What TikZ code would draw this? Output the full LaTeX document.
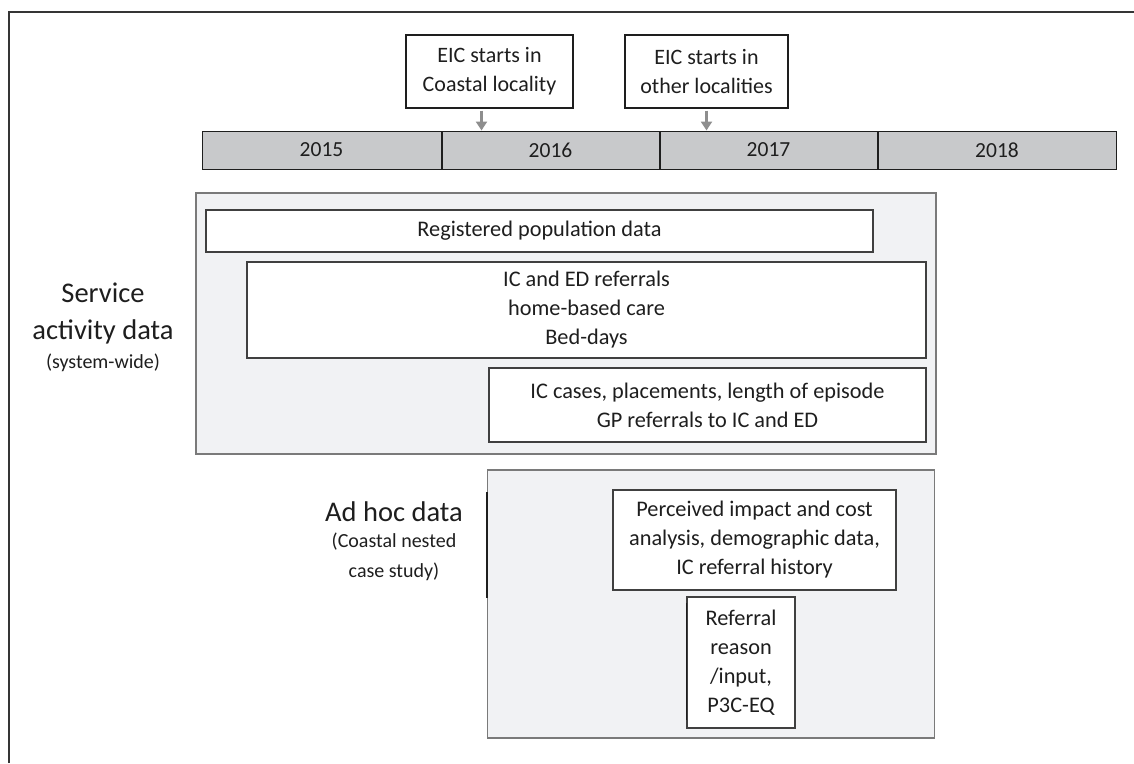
\documentclass[tikz,border=0pt]{standalone}
\usepackage{fontspec}
\setmainfont{Carlito}
\usetikzlibrary{arrows.meta,positioning}

\definecolor{yeargray}{HTML}{C8C9CB}
\definecolor{panelgray}{HTML}{F1F2F4}
\definecolor{edgegray}{HTML}{7A7A7A}
\definecolor{arrowgray}{HTML}{8E8E8E}
\definecolor{inkgray}{HTML}{1E1E1E}

\tikzset{
  yearbox/.style={draw=inkgray,fill=yeargray,line width=1pt,minimum height=38pt,inner sep=0pt,text=inkgray,font=\fontsize{21.5}{24}\selectfont},
  eventbox/.style={draw=inkgray,fill=white,line width=1.4pt,align=center,inner sep=0pt,minimum height=73pt,text=inkgray,font=\fontsize{22}{29}\selectfont},
  panel/.style={draw=edgegray,fill=panelgray,line width=1.5pt,inner sep=0pt},
  databox/.style={draw=inkgray!85,fill=white,line width=1.2pt,align=center,inner sep=0pt,text=inkgray,font=\fontsize{22.3}{29}\selectfont},
  sidelabel/.style={align=center,text=inkgray,font=\fontsize{28.5}{37}\selectfont},
  sidenote/.style={align=center,text=inkgray,font=\fontsize{20}{30}\selectfont},
  startarrow/.style={draw=arrowgray,line width=2.6pt,-{Triangle[length=9pt,width=11pt]}}
}

\begin{document}
\begin{tikzpicture}[x=1pt,y=-1pt]
        \useasboundingbox (0,0) rectangle (1134,763);

        % Outer frame
        \draw[line width=2pt,draw=inkgray!90] (9,763) -- (9,12) -- (1134,12);

        % Draw the timeline
        \node[yearbox,minimum width=239pt] (yr15) at (321.5,150) {2015};
        \node[yearbox,minimum width=217pt,right=0pt of yr15] (yr16) {2016};
        \node[yearbox,minimum width=217pt,right=0pt of yr16] (yr17) {2017};
        \node[yearbox,minimum width=238pt,right=0pt of yr17] (yr18) {2018};

        % Start events
        \node[eventbox,minimum width=167pt] (eicone) at (489.5,71.5) {EIC starts in\\Coastal locality};
        \node[eventbox,minimum width=163pt] (eictwo) at (706.5,71.5) {EIC starts in\\other localities};
        \coordinate (startone) at ([xshift=-8pt]eicone.south);
        \coordinate (starttwo) at (eictwo.south);
        \draw[startarrow] ([yshift=-2pt]startone) -- (startone |- yr16.north);
        \draw[startarrow] ([yshift=-2pt]starttwo) -- (starttwo |- yr17.north);

        % Service activity data
        \node[panel,minimum width=740pt,minimum height=261pt] (svcpanel) at (566,323.5) {};
        \node[databox,minimum width=667pt,minimum height=42pt] (regpop) at (539.5,231) {Registered population data};
        \node[databox,minimum width=679pt,minimum height=96pt] (referrals) at (586.5,310) {IC and ED referrals\\home-based care\\Bed-days};
        \node[databox,minimum width=437pt,minimum height=74pt] (iccases) at (707.5,405) {IC cases, placements, length of episode\\GP referrals to IC and ED};
        \node[sidelabel] (svclabel) at (103,313.5) {Service\\activity data};
        \node[sidenote] (svcnote) at (103,363) {(system-wide)};

        % Ad hoc data
        \node[panel,minimum width=447pt,minimum height=268pt] (adhocpanel) at (711,604) {};
        \draw[line width=1.8pt,draw=inkgray] (adhocpanel.west |- 0,492) -- (adhocpanel.west |- 0,598);
        \node[databox,minimum width=283pt,minimum height=100pt] (impact) at (754.5,540) {Perceived impact and cost\\analysis, demographic data,\\IC referral history};
        \node[databox,minimum width=108pt,minimum height=131pt] (reason) at (741,662.5) {Referral\\reason\\/input,\\P3C-EQ};
        \draw[line width=1.6pt,draw=inkgray] (reason.west |- 0,603) -- (reason.west |- 0,720);
        \node[sidelabel] (adhoclabel) at (394,512) {Ad hoc data};
        \node[sidenote] (adhocnote) at (394,557) {(Coastal nested\\case study)};
\end{tikzpicture}
\end{document}
